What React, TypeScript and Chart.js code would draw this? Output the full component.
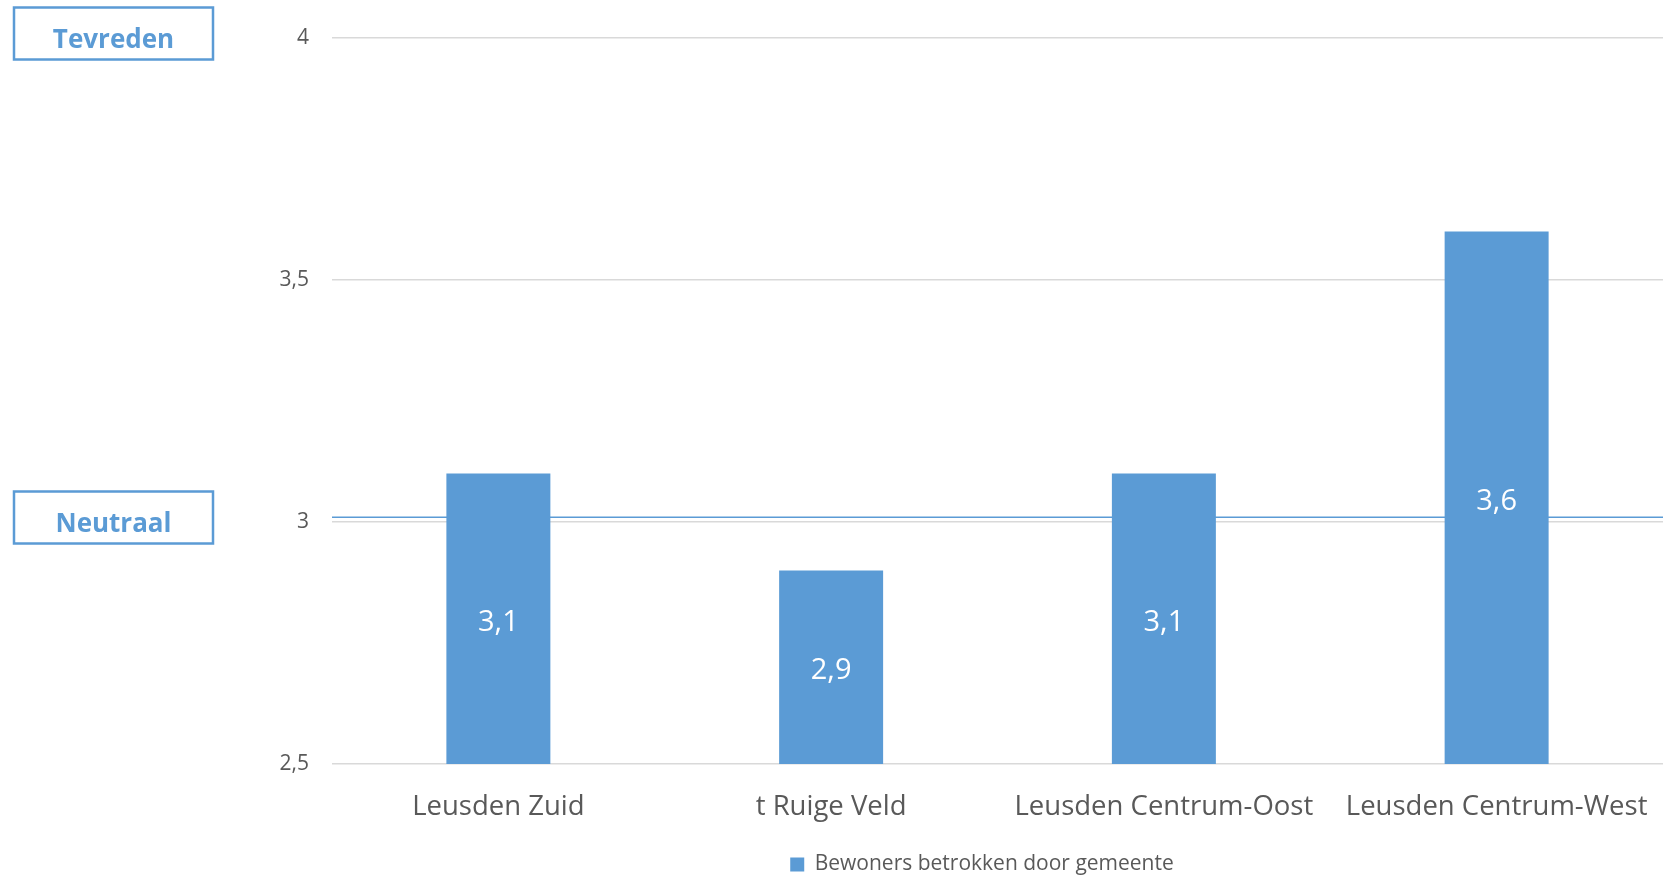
import { useEffect, useRef } from 'react';
import { Chart, registerables } from 'chart.js';

Chart.register(...registerables);

const categories = ['Leusden Zuid', 't Ruige Veld', 'Leusden Centrum-Oost', 'Leusden Centrum-West'];
const seriesLabel = 'Bewoners betrokken door gemeente';
const values = [3.1, 2.9, 3.1, 3.6];
const yTicks = [2.5, 3, 3.5, 4];
const referenceLineValue = 3.01;
const sideLabels = [
  { text: 'Tevreden', value: 4 },
  { text: 'Neutraal', value: 3 },
];

const BLUE = '#5b9bd5';
const GREY_TEXT = '#595959';
const FONT = "'Open Sans', 'Noto Sans', sans-serif";

const fmt = (v: number) => String(v).replace('.', ',');

const referenceLinePlugin = {
  id: 'referenceLine',
  afterLayout(chart: any) {
    // centre the legend over the plot including the tick-label column
    const legend = chart.legend;
    if (legend) {
      legend.left = chart.chartArea.left - 31;
      legend.right = chart.chartArea.right;
    }
  },
  beforeDatasetsDraw(chart: any) {
    const { ctx, chartArea, scales } = chart;
    const y = scales.y.getPixelForValue(referenceLineValue);
    ctx.save();
    ctx.strokeStyle = BLUE;
    ctx.lineWidth = 1.5;
    ctx.beginPath();
    ctx.moveTo(chartArea.left, y);
    ctx.lineTo(chartArea.right, y);
    ctx.stroke();
    ctx.restore();
  },
};

const overlayPlugin = {
  id: 'overlayText',
  afterDraw(chart: any) {
    const { ctx, scales, chartArea } = chart;
    ctx.save();
    const meta = chart.getDatasetMeta(0);
    ctx.fillStyle = '#ffffff';
    ctx.font = `29px ${FONT}`;
    ctx.textAlign = 'center';
    ctx.textBaseline = 'middle';
    meta.data.forEach((bar: any, i: number) => {
      const bottom = Math.min(bar.base, chartArea.bottom);
      ctx.fillText(fmt(values[i]), bar.x, (bar.y + bottom) / 2 + 4);
    });
    sideLabels.forEach((s) => {
      const y = scales.y.getPixelForValue(s.value);
      const left = 14;
      const right = 213;
      const top = y - 30.5;
      const bottom = y + 21.5;
      ctx.strokeStyle = BLUE;
      ctx.lineWidth = 2.5;
      ctx.strokeRect(left, top, right - left, bottom - top);
      ctx.fillStyle = BLUE;
      ctx.font = `bold 26px ${FONT}`;
      ctx.textAlign = 'center';
      ctx.textBaseline = 'alphabetic';
      ctx.fillText(s.text, (left + right) / 2, y + 10);
    });
    ctx.restore();
  },
};

export default function App() {
  const ref = useRef<HTMLCanvasElement | null>(null);

  useEffect(() => {
    if (!ref.current) return;
    const chart = new Chart(ref.current, {
      type: 'bar',
      data: {
        labels: categories,
        datasets: [
          {
            label: seriesLabel,
            data: values,
            backgroundColor: BLUE,
            borderWidth: 0,
            barPercentage: 0.3125,
            categoryPercentage: 1,
          },
        ],
      },
      options: {
        responsive: false,
        animation: false,
        layout: { padding: { left: 0, right: 5, top: 38, bottom: 0 } },
        plugins: {
          tooltip: { enabled: false },
          legend: {
            position: 'bottom',
            fullSize: false,
            maxHeight: 24,
            labels: {
              boxWidth: 14,
              boxHeight: 14,
              padding: 2,
              color: GREY_TEXT,
              font: { family: FONT, size: 21 },
            },
          },
        },
        scales: {
          x: {
            grid: { display: false, drawTicks: false },
            border: { display: false },
            ticks: {
              color: GREY_TEXT,
              font: { family: FONT, size: 27.5 },
              padding: 27,
              maxRotation: 0,
              autoSkip: false,
            },
            afterFit(scale: any) {
              scale.height = 88;
              scale.paddingLeft = 0;
              scale.paddingRight = 0;
            },
          },
          y: {
            min: 2.5,
            max: 4,
            grid: { color: '#d9d9d9', lineWidth: 1.5, drawTicks: false },
            border: { display: false },
            ticks: {
              color: GREY_TEXT,
              font: { family: FONT, size: 21 },
              padding: 23,
              callback: (v: any) => fmt(Number(v)),
            },
            afterBuildTicks(scale: any) {
              scale.ticks = yTicks.map((v) => ({ value: v }));
            },
            afterFit(scale: any) {
              scale.width = 332;
            },
          },
        },
      },
      plugins: [referenceLinePlugin, overlayPlugin],
    });
    return () => chart.destroy();
  }, []);

  return (
    <div style={{ position: 'absolute', left: 0, top: 0, width: 1668, height: 876, background: '#fff' }}>
      <canvas ref={ref} width={1668} height={876} />
    </div>
  );
}
